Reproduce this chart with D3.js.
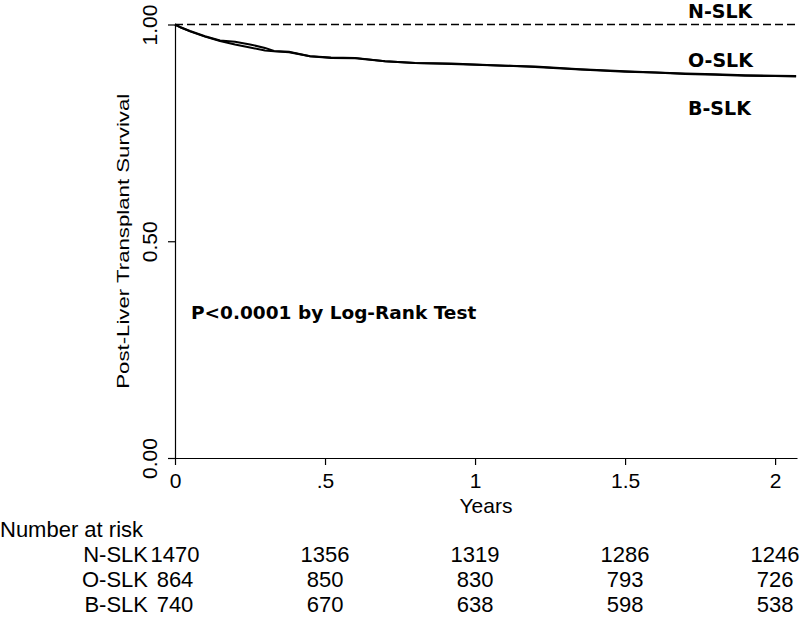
<!DOCTYPE html>
<html>
<head>
<meta charset="utf-8">
<script src="https://cdn.jsdelivr.net/npm/d3@7"></script>
<style>
  html, body { margin: 0; padding: 0; background: #fff; }
  svg { display: block; }
</style>
</head>
<body>
<svg id="chart" width="800" height="617"></svg>
<script>
// ---- data ----
const groups = ["N-SLK", "O-SLK", "B-SLK"];
const times = [0, 0.02, 0.05, 0.1, 0.15, 0.2, 0.25, 0.3, 0.33, 0.38, 0.45, 0.52, 0.6, 0.7, 0.8, 0.92, 1.0, 1.1, 1.2, 1.35, 1.5, 1.6, 1.7, 1.8, 1.9, 2.0, 2.07];
const nSurv = [1, 1, 1, 1, 1, 1, 1, 1, 1, 1, 1, 1, 1, 1, 1, 1, 1, 1, 1, 1, 1, 1, 1, 1, 1, 1, 1];
const oSurv = [1.0, 0.993, 0.985, 0.973, 0.963, 0.960, 0.954, 0.946, 0.939, 0.937, 0.927, 0.924, 0.923, 0.915, 0.911, 0.910, 0.908, 0.905, 0.903, 0.897, 0.892, 0.889, 0.887, 0.885, 0.883, 0.882, 0.881];
const bSurv = [1.0, 0.993, 0.984, 0.972, 0.962, 0.954, 0.947, 0.940, 0.938, 0.936, 0.927, 0.923, 0.922, 0.915, 0.911, 0.909, 0.907, 0.905, 0.902, 0.896, 0.891, 0.889, 0.886, 0.884, 0.882, 0.881, 0.880];
const xTicks = [0, 0.5, 1, 1.5, 2];
const xTickLabels = ["0", ".5", "1", "1.5", "2"];
const yTicks = [0, 0.5, 1];
const yTickLabels = ["0.00", "0.50", "1.00"];
const riskN = [1470, 1356, 1319, 1286, 1246];
const riskO = [864, 850, 830, 793, 726];
const riskB = [740, 670, 638, 598, 538];
const pText = "P<0.0001 by Log-Rank Test";
const xTitle = "Years";
const yTitle = "Post-Liver Transplant Survival";
const riskTitle = "Number at risk";

// ---- layout ----
const svg = d3.select("#chart");
const x = d3.scaleLinear().domain([0, 2.073]).range([175, 797]);
const y = d3.scaleLinear().domain([0, 1]).range([458, 24.5]);
const sans = "'Liberation Sans', Arial, Helvetica, sans-serif";
const boldFont = "'DejaVu Sans', sans-serif";

// x axis
const xAxis = svg.append("g")
  .attr("transform", `translate(0,${y(0)})`)
  .call(d3.axisBottom(x).tickValues(xTicks)
    .tickFormat((d, i) => xTickLabels[i]).tickSize(7).tickSizeOuter(0).tickPadding(8));
xAxis.selectAll("text").attr("font-family", sans).attr("font-size", 21).attr("fill", "#000");
xAxis.selectAll("line, path").attr("stroke", "#000").attr("stroke-width", 1.2);

// y axis
const yAxis = svg.append("g")
  .attr("transform", `translate(${x(0)},0)`)
  .call(d3.axisLeft(y).tickValues(yTicks)
    .tickFormat((d, i) => yTickLabels[i]).tickSize(7).tickSizeOuter(0));
yAxis.selectAll("line, path").attr("stroke", "#000").attr("stroke-width", 1.2);
yAxis.selectAll("text")
  .attr("font-family", sans).attr("font-size", 21).attr("fill", "#000")
  .attr("x", 0).attr("y", 0).attr("dy", 0)
  .attr("text-anchor", "middle")
  .attr("transform", "translate(-18,0) rotate(-90)");

// axis titles
svg.append("text")
  .attr("x", (x.range()[0] + x.range()[1]) / 2).attr("y", 513)
  .attr("text-anchor", "middle")
  .attr("font-family", sans).attr("font-size", 21)
  .text(xTitle);

svg.append("text")
  .attr("transform", `translate(129,${(y(0) + y(1)) / 2}) rotate(-90)`)
  .attr("text-anchor", "middle")
  .attr("font-family", sans).attr("font-size", 16)
  .attr("textLength", 295).attr("lengthAdjust", "spacingAndGlyphs")
  .text(yTitle);

// curves
const line = d3.line().x(d => x(d[0])).y(d => y(d[1])).curve(d3.curveLinear);
const series = [
  { name: groups[0], vals: nSurv, dash: "8,4", w: 1.5 },
  { name: groups[1], vals: oSurv, dash: null, w: 2 },
  { name: groups[2], vals: bSurv, dash: null, w: 2 }
];
series.forEach(s => {
  svg.append("path")
    .datum(times.map((t, i) => [t, s.vals[i]]))
    .attr("d", line)
    .attr("fill", "none")
    .attr("stroke", "#000")
    .attr("stroke-width", s.w)
    .attr("stroke-dasharray", s.dash);
});

// group labels
const labelY = [18, 67, 115];
groups.forEach((g, i) => {
  svg.append("text")
    .attr("x", 688).attr("y", labelY[i])
    .attr("font-family", boldFont).attr("font-weight", "bold").attr("font-size", 19)
    .text(g);
});

// p-value
svg.append("text")
  .attr("x", 191).attr("y", 319)
  .attr("font-family", boldFont).attr("font-weight", "bold").attr("font-size", 18.5)
  .text(pText);

// risk table
svg.append("text")
  .attr("x", 0).attr("y", 537)
  .attr("font-family", sans).attr("font-size", 22)
  .text(riskTitle);

const riskRows = [riskN, riskO, riskB];
const rowY = [562, 587, 612];
riskRows.forEach((row, r) => {
  svg.append("text")
    .attr("x", 148).attr("y", rowY[r])
    .attr("text-anchor", "end")
    .attr("font-family", sans).attr("font-size", 22)
    .text(groups[r]);
  row.forEach((v, i) => {
    svg.append("text")
      .attr("x", x(xTicks[i])).attr("y", rowY[r])
      .attr("text-anchor", "middle")
      .attr("font-family", sans).attr("font-size", 22)
      .text(v);
  });
});
</script>
</body>
</html>
